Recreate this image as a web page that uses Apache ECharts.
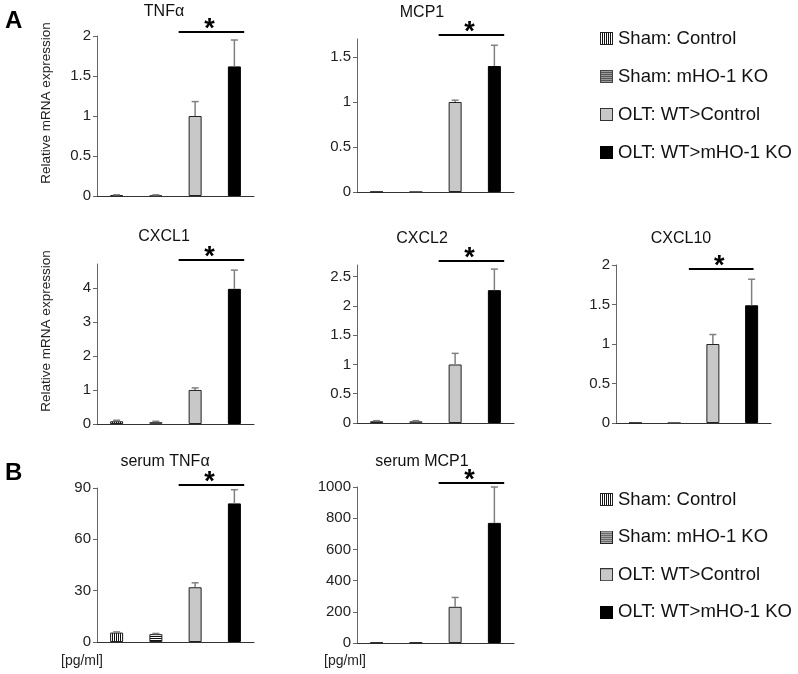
<!DOCTYPE html>
<html><head><meta charset="utf-8">
<script src="https://cdn.jsdelivr.net/npm/echarts@6/dist/echarts.min.js"></script>
<style>html,body{margin:0;padding:0;background:#fff}#c{width:798px;height:674px}</style>
</head><body><div id="c"></div>
<script>
// ---------- data ----------
const groups = ['Sham: Control', 'Sham: mHO-1 KO', 'OLT: WT>Control', 'OLT: WT>mHO-1 KO'];
const panelTitles = ['TNFα', 'MCP1', 'CXCL1', 'CXCL2', 'CXCL10', 'serum TNFα', 'serum MCP1'];

const tnfaMean   = [0.01, 0.01, 1.00, 1.62];
const tnfaErr    = [0.005, 0.005, 0.18, 0.33];
const mcp1Mean   = [0.003, 0.003, 1.00, 1.40];
const mcp1Err    = [0, 0, 0.02, 0.23];
const cxcl1Mean  = [0.08, 0.06, 1.00, 3.97];
const cxcl1Err   = [0.03, 0.02, 0.06, 0.55];
const cxcl2Mean  = [0.03, 0.03, 1.00, 2.27];
const cxcl2Err   = [0.01, 0.01, 0.19, 0.36];
const cxcl10Mean = [0.003, 0.003, 1.00, 1.49];
const cxcl10Err  = [0, 0, 0.12, 0.33];
const sTnfaMean  = [5.5, 4.6, 32, 81];
const sTnfaErr   = [0.4, 0.4, 2.6, 8];
const sMcp1Mean  = [3, 3, 232, 770];
const sMcp1Err   = [0, 0, 60, 230];

const yMax   = [2, 1.7, 4.7, 2.7, 2, 90, 1000];
const yTicks = [
  [0, 0.5, 1, 1.5, 2],
  [0, 0.5, 1, 1.5],
  [0, 1, 2, 3, 4],
  [0, 0.5, 1, 1.5, 2, 2.5],
  [0, 0.5, 1, 1.5, 2],
  [0, 30, 60, 90],
  [0, 200, 400, 600, 800, 1000]
];
const sigLevel = [2.05, 1.745, 4.82, 2.77, 1.95, 91.8, 1026];
const yAxisName = 'Relative mRNA expression';
const unitLabel = '[pg/ml]';

const means = [tnfaMean, mcp1Mean, cxcl1Mean, cxcl2Mean, cxcl10Mean, sTnfaMean, sMcp1Mean];
const errs  = [tnfaErr, mcp1Err, cxcl1Err, cxcl2Err, cxcl10Err, sTnfaErr, sMcp1Err];

// ---------- layout ----------
const FONT = '"Liberation Sans", Arial, sans-serif';
const layout = [
  { left: 97,  top: 36,  width: 157, height: 160, tx: 164, ty: 4 },
  { left: 357, top: 39,  width: 157, height: 153, tx: 422, ty: 5 },
  { left: 97,  top: 264, width: 157, height: 160, tx: 164, ty: 229 },
  { left: 357, top: 265, width: 157, height: 158, tx: 422, ty: 231 },
  { left: 616, top: 265, width: 155, height: 158, tx: 681, ty: 231, sig: [-0.62, 0.05] },
  { left: 97,  top: 488, width: 157, height: 154, tx: 165, ty: 454 },
  { left: 357, top: 487, width: 157, height: 156, tx: 422, ty: 454 }
];

// fill painters (pattern drawers)
const paintV = (g, w, h) => { g.fillStyle = '#fff'; g.fillRect(0, 0, w, h); g.fillStyle = '#111'; for (let x = 0; x < w; x += 2) g.fillRect(x, 0, 1, h); };
const paintHGray = (g, w, h) => { g.fillStyle = '#9a9a9a'; g.fillRect(0, 0, w, h); g.fillStyle = '#555'; for (let y = 0; y < h; y += 2) g.fillRect(0, y, w, 1); };
const paintHBW = (g, w, h) => { g.fillStyle = '#fff'; g.fillRect(0, 0, w, h); g.fillStyle = '#111'; for (let y = 0; y < h; y += 2) g.fillRect(0, y, w, 1); };
const paintSolid = c => (g, w, h) => { g.fillStyle = c; g.fillRect(0, 0, w, h); };

function pat(w, h, paint) {
  const c = document.createElement('canvas');
  c.width = w; c.height = h;
  paint(c.getContext('2d'), w, h);
  return { image: c, repeat: 'repeat' };
}
function iconURL(paint, border) {
  const c = document.createElement('canvas');
  c.width = 13; c.height = 13;
  const g = c.getContext('2d');
  paint(g, 13, 13);
  g.strokeStyle = border; g.lineWidth = 1; g.strokeRect(0.5, 0.5, 12, 12);
  return 'image://' + c.toDataURL();
}

const vStripe = pat(2, 1, paintV);
const hStripeGray = pat(1, 2, paintHGray);
const hStripeBW = pat(1, 2, paintHBW);

const stylesA = [
  { color: vStripe, borderColor: '#222', borderWidth: 1 },
  { color: hStripeGray, borderColor: '#444', borderWidth: 1 },
  { color: '#c8c8c8', borderColor: '#222', borderWidth: 1 },
  { color: '#000', borderColor: '#000', borderWidth: 1 }
];
const stylesB = [
  { color: vStripe, borderColor: '#222', borderWidth: 1 },
  { color: hStripeBW, borderColor: '#222', borderWidth: 1 },
  { color: '#c8c8c8', borderColor: '#222', borderWidth: 1 },
  { color: '#000', borderColor: '#000', borderWidth: 1 }
];
const iconsA = [iconURL(paintV, '#222'), iconURL(paintHGray, '#444'), iconURL(paintSolid('#c8c8c8'), '#333'), iconURL(paintSolid('#000'), '#000')];
const iconsB = [iconURL(paintV, '#222'), iconURL(paintHBW, '#222'), iconURL(paintSolid('#c8c8c8'), '#333'), iconURL(paintSolid('#000'), '#000')];

const grid = [], xAxis = [], yAxis = [], series = [], title = [];

layout.forEach((L, p) => {
  grid.push({ left: L.left, top: L.top, width: L.width, height: L.height, containLabel: false });
  title.push({
    text: panelTitles[p], left: L.tx, top: L.ty, textAlign: 'center', padding: 0,
    textStyle: { fontSize: 16, fontWeight: 'normal', color: '#111', fontFamily: FONT }
  });
  xAxis.push({
    type: 'category', gridIndex: p, data: groups, boundaryGap: true,
    axisLine: { lineStyle: { color: '#333', width: 1 } },
    axisTick: { show: false }, axisLabel: { show: false }, splitLine: { show: false }
  });
  const ya = {
    type: 'value', gridIndex: p, min: 0, max: yMax[p],
    axisLine: { show: true, lineStyle: { color: '#666', width: 1 } },
    axisTick: { show: true, length: 4, lineStyle: { color: '#666' }, customValues: yTicks[p] },
    axisLabel: { fontSize: 15, color: '#222', margin: 6, fontFamily: FONT, customValues: yTicks[p], formatter: v => String(v) },
    splitLine: { show: false }
  };
  if (p === 0 || p === 2) {
    ya.name = yAxisName;
    ya.nameLocation = 'middle';
    ya.nameGap = 44;
    ya.nameTextStyle = { fontSize: 13.5, color: '#222', fontFamily: FONT, padding: [0, 0, 0, 26] };
  }
  yAxis.push(ya);

  const styles = p >= 5 ? stylesB : stylesA;
  groups.forEach((g, k) => {
    series.push({
      type: 'bar', name: g, xAxisIndex: p, yAxisIndex: p,
      barWidth: 13, barGap: '-100%',
      data: groups.map((_, i) => (i === k ? means[p][i] : '-')),
      itemStyle: styles[k], silent: true, animation: false
    });
  });

  // error bars
  series.push({
    type: 'custom', xAxisIndex: p, yAxisIndex: p, silent: true, animation: false, clip: false, z: 5,
    encode: { x: 0, y: 1 },
    data: means[p].map((m, i) => [i, m, errs[p][i]]),
    renderItem: (params, api) => {
      const e = api.value(2);
      if (!e) return null;
      const base = api.coord([api.value(0), api.value(1)]);
      const top = api.coord([api.value(0), api.value(1) + e]);
      const st = { stroke: '#808080', lineWidth: 1.5 };
      return {
        type: 'group', children: [
          { type: 'line', shape: { x1: base[0], y1: base[1], x2: top[0], y2: top[1] }, style: st },
          { type: 'line', shape: { x1: top[0] - 3.5, y1: top[1], x2: top[0] + 3.5, y2: top[1] }, style: st }
        ]
      };
    }
  });

  // significance bar
  const sig = L.sig || [-0.42, 0.25];
  series.push({
    type: 'custom', xAxisIndex: p, yAxisIndex: p, silent: true, animation: false, clip: false, z: 5,
    encode: { x: 0, y: 2 },
    data: [[2, 3, sigLevel[p]]],
    renderItem: (params, api) => {
      const a = api.coord([api.value(0), api.value(2)]);
      const b = api.coord([api.value(1), api.value(2)]);
      const band = api.size([1, 0])[0];
      const x1 = a[0] + sig[0] * band, x2 = b[0] + sig[1] * band;
      return {
        type: 'group', children: [
          { type: 'line', shape: { x1: x1, y1: a[1], x2: x2, y2: a[1] }, style: { stroke: '#000', lineWidth: 2 } },
          { type: 'text', style: { text: '*', x: (x1 + x2) / 2 - 2, y: a[1] - 2, align: 'center', verticalAlign: 'middle', fontSize: 27, fontWeight: 'bold', fill: '#000', fontFamily: FONT } }
        ]
      };
    }
  });
});

const legendText = { fontSize: 18.5, color: '#111', fontFamily: FONT };
const legend = [
  { orient: 'vertical', left: 600, top: 29, padding: 0, itemWidth: 13, itemHeight: 13, itemGap: 19, 
    selectedMode: false, textStyle: legendText,
    data: groups.map((g, i) => ({ name: g, icon: iconsA[i] })) },
  { orient: 'vertical', left: 600, top: 490, padding: 0, itemWidth: 13, itemHeight: 13, itemGap: 18.6,
    selectedMode: false, textStyle: legendText,
    data: groups.map((g, i) => ({ name: g, icon: iconsB[i] })) }
];

const graphic = [
  { type: 'text', left: 5, top: 9, style: { text: 'A', fontSize: 24, fontWeight: 'bold', fill: '#000', fontFamily: FONT } },
  { type: 'text', left: 5, top: 461, style: { text: 'B', fontSize: 24, fontWeight: 'bold', fill: '#000', fontFamily: FONT } },
  { type: 'text', left: 61, top: 654, style: { text: unitLabel, fontSize: 14, fill: '#222', fontFamily: FONT } },
  { type: 'text', left: 324, top: 654, style: { text: unitLabel, fontSize: 14, fill: '#222', fontFamily: FONT } }
];

const chart = echarts.init(document.getElementById('c'), null, { renderer: 'canvas' });
chart.setOption({
  animation: false, backgroundColor: '#fff',
  title, grid, xAxis, yAxis, series, legend, graphic
});
</script>
</body></html>
